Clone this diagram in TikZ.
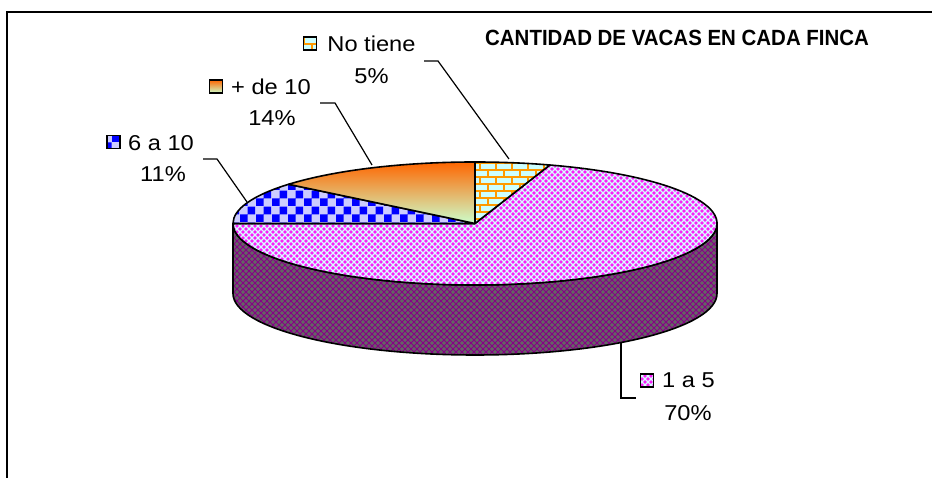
\documentclass[tikz,border=0pt]{standalone}
\usepackage{fontspec}
\setmainfont{Liberation Sans}[FakeStretch=1.1]
\newfontfamily\titlefont{Liberation Sans}[FakeStretch=0.93]
\usetikzlibrary{patterns}
\definecolor{pinkbg}{RGB}{250,30,250}
\definecolor{pinkline}{RGB}{215,255,255}
\definecolor{sidebg}{RGB}{100,100,100}
\definecolor{sideline}{RGB}{135,0,135}
\definecolor{chkblue}{RGB}{0,0,255}
\definecolor{chklav}{RGB}{204,204,255}
\definecolor{brickbg}{RGB}{204,255,255}
\definecolor{brickline}{RGB}{255,153,0}
\definecolor{gradtop}{RGB}{255,102,0}
\definecolor{gradbot}{RGB}{204,255,204}

\pgfdeclarepatternformonly{lattice}{\pgfqpoint{-1pt}{-1pt}}{\pgfqpoint{7pt}{7pt}}{\pgfqpoint{6pt}{6pt}}{%
  \pgfsetlinewidth{1.1pt}%
  \pgfpathmoveto{\pgfqpoint{0pt}{0pt}}\pgfpathlineto{\pgfqpoint{6pt}{6pt}}%
  \pgfpathmoveto{\pgfqpoint{0pt}{6pt}}\pgfpathlineto{\pgfqpoint{6pt}{0pt}}%
  \pgfusepath{stroke}}
\pgfdeclarepatternformonly{sidelattice}{\pgfqpoint{-1pt}{-1pt}}{\pgfqpoint{7pt}{7pt}}{\pgfqpoint{6pt}{6pt}}{%
  \pgfsetlinewidth{0.8pt}%
  \pgfpathmoveto{\pgfqpoint{0pt}{0pt}}\pgfpathlineto{\pgfqpoint{6pt}{6pt}}%
  \pgfpathmoveto{\pgfqpoint{0pt}{6pt}}\pgfpathlineto{\pgfqpoint{6pt}{0pt}}%
  \pgfusepath{stroke}}
\pgfdeclarepatternformonly{bigchecker}{\pgfqpoint{0pt}{0pt}}{\pgfqpoint{16pt}{16pt}}{\pgfqpoint{16pt}{16pt}}{%
  \pgfpathrectangle{\pgfqpoint{0pt}{0pt}}{\pgfqpoint{8pt}{8pt}}%
  \pgfpathrectangle{\pgfqpoint{8pt}{8pt}}{\pgfqpoint{8pt}{8pt}}%
  \pgfusepath{fill}}
\pgfdeclarepatternformonly{mybricks}{\pgfqpoint{-1pt}{-1pt}}{\pgfqpoint{17pt}{15pt}}{\pgfqpoint{16pt}{14pt}}{%
  \pgfsetlinewidth{1.6pt}%
  \pgfpathmoveto{\pgfqpoint{0pt}{0pt}}\pgfpathlineto{\pgfqpoint{16pt}{0pt}}%
  \pgfpathmoveto{\pgfqpoint{0pt}{7pt}}\pgfpathlineto{\pgfqpoint{16pt}{7pt}}%
  \pgfpathmoveto{\pgfqpoint{0pt}{0pt}}\pgfpathlineto{\pgfqpoint{0pt}{7pt}}%
  \pgfpathmoveto{\pgfqpoint{8pt}{7pt}}\pgfpathlineto{\pgfqpoint{8pt}{14pt}}%
  \pgfusepath{stroke}}

\tikzset{
  outline/.style={draw=black, line width=1.6pt, line join=round},
  pinkface/.style={preaction={fill=pinkbg}, pattern=lattice, pattern color=pinkline},
  sideface/.style={preaction={fill=sidebg}, pattern=sidelattice, pattern color=sideline},
  checkface/.style={preaction={fill=chklav}, pattern=bigchecker, pattern color=chkblue},
  brickface/.style={preaction={fill=brickbg}, pattern=mybricks, pattern color=brickline},
  gradface/.style={top color=gradtop, bottom color=gradbot},
  keybox/.style={rectangle, minimum size=13pt, inner sep=0pt, draw=black, line width=1.3pt},
  lbl/.style={font=\fontsize{21.5}{24}\selectfont, inner sep=0pt},
  ttl/.style={font=\titlefont\bfseries\fontsize{22}{24}\selectfont, inner sep=0pt},
  leader/.style={draw=black, line width=1.2pt},
  frameline/.style={draw=black, line width=2pt}
}

\begin{document}
\begin{tikzpicture}[x=1pt, y=1pt]
\useasboundingbox (0,0) rectangle (932,478);
\draw[frameline] (7,0) -- (7,465.5) -- (932,465.5);

\coordinate (C) at (475,254.5);
\def\rx{242pt}
\def\ry{61.5pt}

% side
\path[sideface, outline] ([shift={(C)}]180:\rx\space and \ry) arc[start angle=180, end angle=360, x radius=\rx, y radius=\ry]
  -- ++(0,-70) arc[start angle=0, end angle=-180, x radius=\rx, y radius=\ry] -- cycle;

% top slices
\path[pinkface, outline] (C) -- ([shift={(C)}]72:\rx\space and \ry) arc[start angle=72, end angle=-180, x radius=\rx, y radius=\ry] -- cycle;
\path[brickface, outline] (C) -- ([shift={(C)}]90:\rx\space and \ry) arc[start angle=90, end angle=72, x radius=\rx, y radius=\ry] -- cycle;
\path[checkface, outline] (C) -- ([shift={(C)}]180:\rx\space and \ry) arc[start angle=180, end angle=140.4, x radius=\rx, y radius=\ry] -- cycle;
\path[gradface, outline] (C) -- ([shift={(C)}]140.4:\rx\space and \ry) arc[start angle=140.4, end angle=90, x radius=\rx, y radius=\ry] -- cycle;

% title
\node[ttl, anchor=base west] (title) at (485,432) {CANTIDAD DE VACAS EN CADA FINCA};

% labels
\node[lbl, anchor=base] (nt) at (371.5,426) {No tiene};
\node[lbl, anchor=base] (ntp) at (371.5,394.7) {5\%};
\node[keybox, brickface] (ntk) at (310,434.5) {};

\node[lbl, anchor=base] (md) at (271,383) {+ de 10};
\node[lbl, anchor=base] (mdp) at (272,352) {14\%};
\node[keybox, gradface, draw=black] (mdk) at (216,391.5) {};

\node[lbl, anchor=base] (sd) at (161,327) {6 a 10};
\node[lbl, anchor=base] (sdp) at (163,296) {11\%};
\node[keybox, checkface] (sdk) at (113.5,336) {};

\node[lbl, anchor=base] (ua) at (688.5,90) {1 a 5};
\node[lbl, anchor=base] (uap) at (688,57) {70\%};
\node[keybox, pinkface] (uak) at (647,97.5) {};

% leader lines
\coordinate (ntA) at (424,417);
\coordinate (ntB) at (438,417);
\coordinate (ntE) at (509,319);
\draw[leader] (ntA) -- (ntB) -- (ntE);

\coordinate (mdA) at (320,375);
\coordinate (mdB) at (335,375);
\coordinate (mdE) at (372,313);
\draw[leader] (mdA) -- (mdB) -- (mdE);

\coordinate (sdA) at (203,319);
\coordinate (sdB) at (217,319);
\coordinate (sdE) at (247,276);
\draw[leader] (sdA) -- (sdB) -- (sdE);

\coordinate (uaA) at (621,135);
\coordinate (uaB) at (621,80);
\coordinate (uaE) at (636,80);
\draw[leader] (uaA) -- (uaB) -- (uaE);
\end{tikzpicture}
\end{document}
